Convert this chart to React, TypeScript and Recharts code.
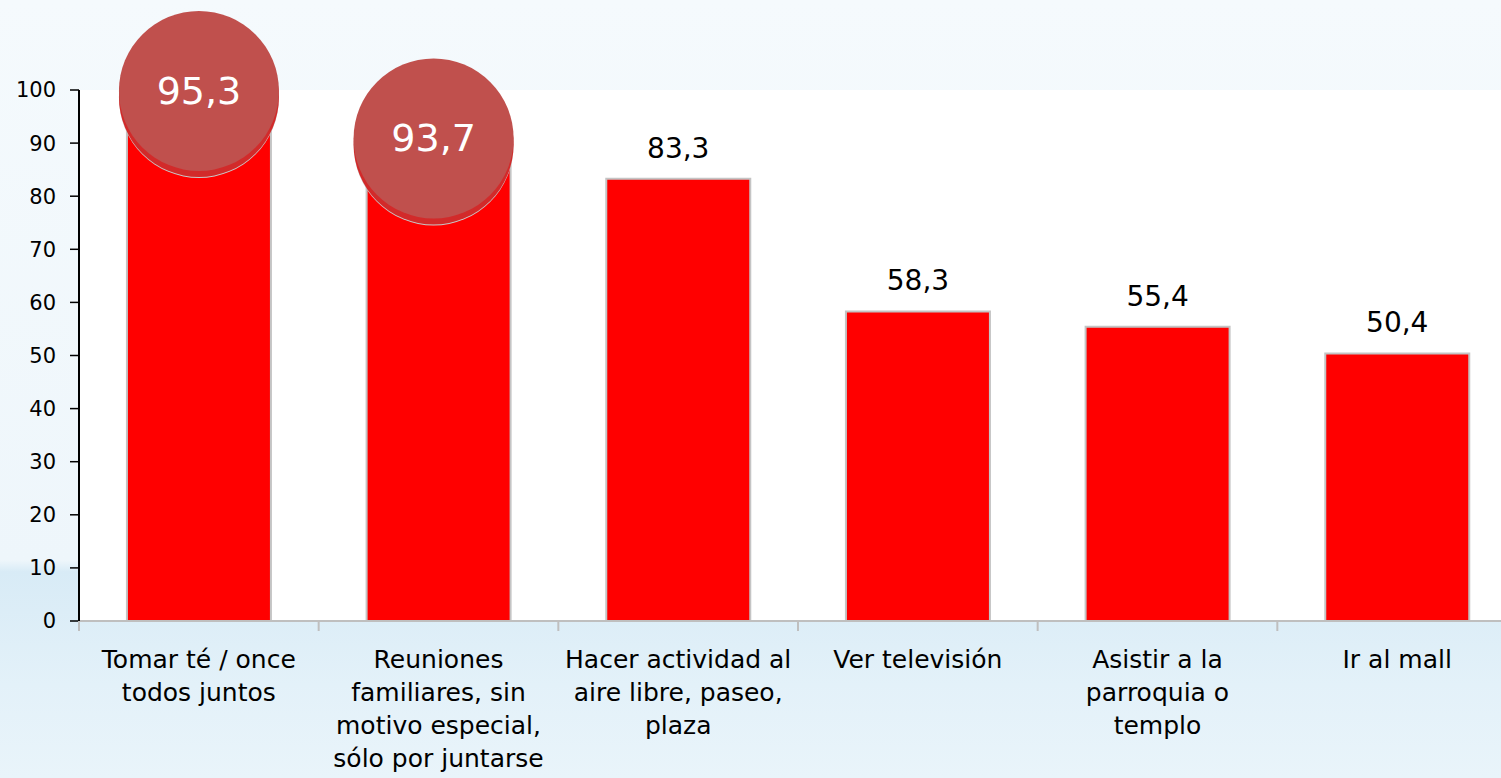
import React from 'react';
import { BarChart, Bar, XAxis, YAxis, CartesianGrid, LabelList } from 'recharts';

const categories = [
  'Tomar té / once\ntodos juntos',
  'Reuniones\nfamiliares, sin\nmotivo especial,\nsólo por juntarse',
  'Hacer actividad al\naire libre, paseo,\nplaza',
  'Ver televisión',
  'Asistir a la\nparroquia o\ntemplo',
  'Ir al mall',
];
const values = [95.3, 93.7, 83.3, 58.3, 55.4, 50.4];
const valueLabels = ['95,3', '93,7', '83,3', '58,3', '55,4', '50,4'];
const highlighted = [true, true, false, false, false, false];
const yTicks = [0, 10, 20, 30, 40, 50, 60, 70, 80, 90, 100];

const data = categories.map((c, i) => ({ name: c, value: values[i], label: valueLabels[i], hl: highlighted[i] }));

const FONT = '"DejaVu Sans", Verdana, sans-serif';
// visual placement of the badge circles relative to the bar top (px)
const badgeShift = [{ dx: 0, dy: -22 }, { dx: -5, dy: 17 }];

const CatTick = (props: any) => {
  const { x, y, payload, width, index } = props;
  const half = payload && payload.offset ? payload.offset : width / categories.length / 2;
  const lines = String(payload.value).split('\n');
  return (
    <g>
      <line x1={x - half} x2={x - half} y1={y} y2={y + 10} stroke="#bfbfbf" strokeWidth={2} />
      {index === categories.length - 1 && (
        <line x1={x + half} x2={x + half} y1={y} y2={y + 10} stroke="#bfbfbf" strokeWidth={2} />
      )}
      <text x={x} y={y} textAnchor="middle" fontFamily={FONT} fontSize={25} fill="#000">
        {lines.map((l, i) => (
          <tspan key={i} x={x} dy={i === 0 ? 47 : 33}>{l}</tspan>
        ))}
      </text>
    </g>
  );
};

const BarLabel = (props: any) => {
  const { x, y, width, index } = props;
  const d = data[index];
  const cx = x + width / 2;
  if (d.hl) {
    const s = badgeShift[index] || { dx: 0, dy: -20 };
    const ccx = cx + s.dx;
    const ccy = y + s.dy;
    return (
      <g>
        <circle cx={ccx} cy={ccy + 5} r={80} fill="#c9c9c9" />
        <circle cx={ccx} cy={ccy + 4} r={80} fill="#d22a2a" />
        <circle cx={ccx} cy={ccy - 2} r={80} fill="#c0504d" />
        <text x={ccx} y={ccy + 11} textAnchor="middle" fontFamily={FONT} fontSize={38} fill="#ffffff">{d.label}</text>
      </g>
    );
  }
  return (
    <text x={cx} y={y - 21} textAnchor="middle" fontFamily={FONT} fontSize={28} fill="#000">{d.label}</text>
  );
};

export default function App() {
  return (
    <div style={{ position: 'absolute', left: 0, top: 0, width: 1501, height: 778, overflow: 'hidden',
      background: 'linear-gradient(180deg, #f5fafd 0%, #eef6fb 72%, #d8ebf6 73.5%, #e3f1f9 88%, #e9f4fa 100%)' }}>
      <BarChart width={1530} height={778} data={data} margin={{ top: 90, right: 13, bottom: 7, left: 0 }} barCategoryGap="20%">
        <CartesianGrid horizontal={false} vertical={false} fill="#ffffff" />
        <XAxis dataKey="name" interval={0} height={150} tick={<CatTick />} tickLine={false} tickSize={0} tickMargin={0}
          axisLine={{ stroke: '#bfbfbf', strokeWidth: 2 }} />
        <YAxis domain={[0, 100]} ticks={yTicks} width={79} interval={0} tickSize={9} tickMargin={14}
          axisLine={{ stroke: '#000', strokeWidth: 2 }} tickLine={{ stroke: '#000', strokeWidth: 1.5 }}
          tick={{ fontFamily: FONT, fontSize: 21, fill: '#000' }} />
        <Bar dataKey="value" fill="#ff0000" stroke="#c4c4c4" strokeWidth={2} isAnimationActive={false}>
          <LabelList dataKey="value" content={<BarLabel />} />
        </Bar>
      </BarChart>
    </div>
  );
}
